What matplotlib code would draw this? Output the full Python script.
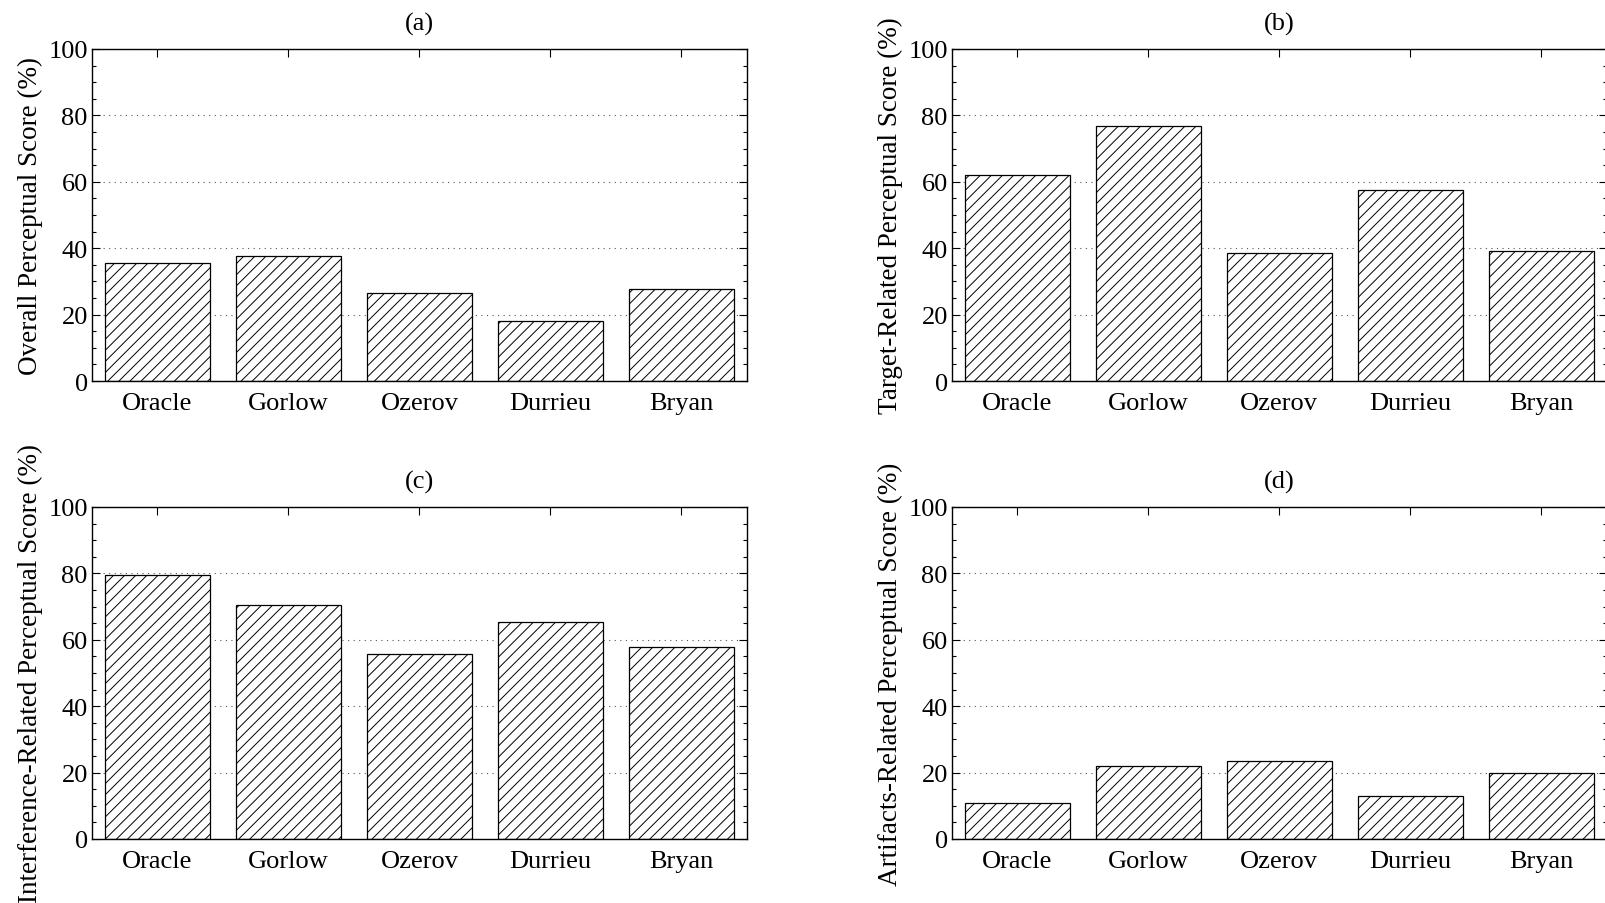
import matplotlib.pyplot as plt
from matplotlib.ticker import MultipleLocator

plt.rcParams['font.family'] = ['Liberation Serif', 'DejaVu Serif']
plt.rcParams['hatch.linewidth'] = 0.7
plt.rcParams['hatch.color'] = 'black'

# Scores per method for each perceptual measure
methods = ['Oracle', 'Gorlow', 'Ozerov', 'Durrieu', 'Bryan']
overall = [35.5, 37.7, 26.4, 18.2, 27.7]
target = [62.0, 76.9, 38.6, 57.4, 39.2]
interference = [79.6, 70.4, 55.6, 65.4, 57.8]
artifacts = [10.8, 21.9, 23.5, 13.0, 19.8]

panels = [
    ('(a)', 'Overall Perceptual Score (%)', overall),
    ('(b)', 'Target-Related Perceptual Score (%)', target),
    ('(c)', 'Interference-Related Perceptual Score (%)', interference),
    ('(d)', 'Artifacts-Related Perceptual Score (%)', artifacts),
]

fig = plt.figure(figsize=(16.05, 9.04), dpi=100)

# axes boxes [left, bottom, width, height]
boxes = [
    [0.0573, 0.5774, 0.408, 0.3673],
    [0.5931, 0.5774, 0.408, 0.3673],
    [0.0573, 0.0708, 0.408, 0.3673],
    [0.5931, 0.0708, 0.408, 0.3673],
]

x = list(range(1, len(methods) + 1))
for box, (title, ylabel, vals) in zip(boxes, panels):
    ax = fig.add_axes(box)
    ax.bar(x, vals, width=0.8, color='white', edgecolor='black',
           linewidth=0.9, hatch='///', zorder=2)
    ax.set_xlim(0.5, 5.5)
    ax.set_ylim(0, 100)
    ax.set_xticks(x)
    ax.set_xticklabels(methods)
    ax.set_yticks(range(0, 101, 20))
    ax.yaxis.set_minor_locator(MultipleLocator(5))
    ax.tick_params(which='both', direction='in', top=True, right=True,
                   labelsize=19, width=0.8)
    ax.tick_params(which='major', length=6)
    ax.tick_params(which='minor', length=3)
    ax.tick_params(axis='x', pad=8)
    ax.tick_params(axis='y', pad=3)
    ax.grid(axis='y', linestyle=(0, (1, 4)), color='#555555',
            linewidth=0.8, zorder=0)
    for s in ax.spines.values():
        s.set_linewidth(1.0)
    ax.set_ylabel(ylabel, fontsize=19.5, labelpad=4)
    ax.set_title(title, fontsize=19, pad=14)

fig.savefig('out.png', dpi=100)
